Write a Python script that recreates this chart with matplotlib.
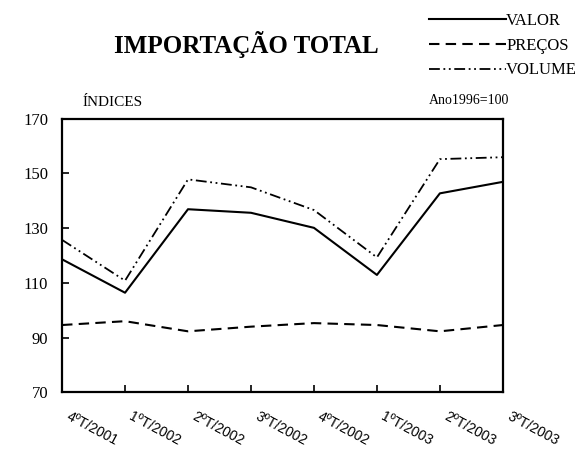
import matplotlib.pyplot as plt

# --- Data ---
quarters = ["4ºT/2001", "1ºT/2002", "2ºT/2002", "3ºT/2002",
            "4ºT/2002", "1ºT/2003", "2ºT/2003", "3ºT/2003"]
valor = [118.6, 106.4, 136.9, 135.6, 130.1, 112.9, 142.7, 146.9]
precos = [94.6, 96.0, 92.3, 94.0, 95.3, 94.6, 92.3, 94.6]
volume = [125.7, 110.8, 147.8, 144.9, 136.6, 119.3, 155.2, 155.9]
yticks = [70, 90, 110, 130, 150, 170]

plt.rcParams['font.family'] = ['Liberation Serif', 'DejaVu Serif']

fig = plt.figure(figsize=(5.8, 4.51), dpi=100)
ax = fig.add_axes([0.107, 0.130, 0.760, 0.607])

x = list(range(len(quarters)))
l1, = ax.plot(x, valor, color='black', lw=1.5, label='VALOR')
l2, = ax.plot(x, precos, color='black', lw=1.5, linestyle=(0, (5, 3)), label='PREÇOS')
l3, = ax.plot(x, volume, color='black', lw=1.3,
              linestyle=(0, (6, 2, 1, 2, 1, 2)), label='VOLUME')

ax.set_xlim(0, len(quarters) - 1)
ax.set_ylim(70, 170)
ax.set_yticks(yticks)
ax.set_yticklabels([str(v) for v in yticks], fontsize=12)
ax.set_xticks(x)
ax.set_xticklabels([])
ax.tick_params(axis='both', direction='in', length=5, width=1.2, top=False, right=False)
ax.tick_params(axis='y', pad=10)
for s in ax.spines.values():
    s.set_linewidth(1.6)

# rotated quarter labels below the axis
for i, q in enumerate(quarters):
    ax.annotate(q, xy=(i, 70), xytext=(6, -12), textcoords='offset points',
                ha='left', va='top', rotation=-28, rotation_mode='anchor',
                fontsize=10, family='Liberation Sans',
                annotation_clip=False)

fig.text(0.425, 0.902, "IMPORTAÇÃO TOTAL", ha='center', va='center',
         fontsize=18, fontweight='bold')
fig.text(0.143, 0.772, "ÍNDICES", ha='left', va='center', fontsize=11)
fig.text(0.878, 0.778, "Ano1996=100", ha='right', va='center', fontsize=10)

fig.legend(handles=[l1, l2, l3], loc='upper right', bbox_to_anchor=(1.012, 0.993),
           frameon=False, fontsize=12, handlelength=4.6, handletextpad=0.0,
           labelspacing=0.52, borderaxespad=0.2)

fig.savefig("out.png", dpi=100)
